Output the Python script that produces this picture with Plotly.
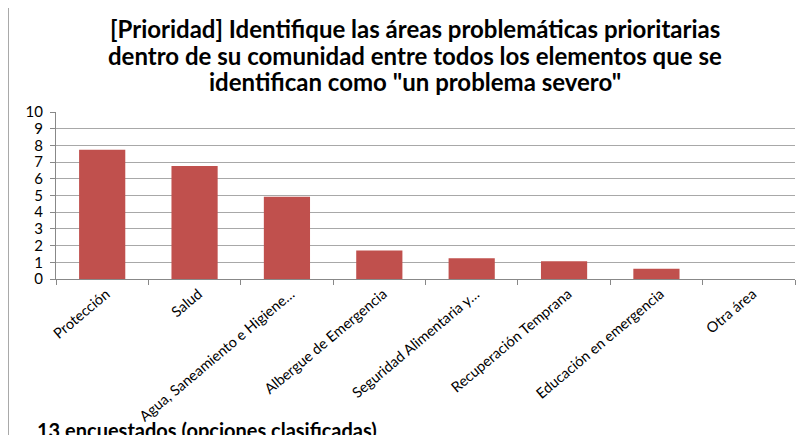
import plotly.graph_objects as go

categories = ["Protección", "Salud", "Agua, Saneamiento e Higiene…", "Albergue de Emergencia",
              "Seguridad Alimentaria y…", "Recuperación Temprana", "Educación en emergencia", "Otra área"]
values = [7.74, 6.76, 4.92, 1.70, 1.24, 1.06, 0.62, 0]
y_ticks = list(range(0, 11))

title_lines = ["[Prioridad] Identifique las áreas problemáticas prioritarias",
               "dentro de su comunidad entre todos los elementos que se",
               "identifican como \"un problema severo\""]
footer_text = "13 encuestados (opciones clasificadas)"

fig = go.Figure(go.Bar(
    x=categories, y=values,
    marker=dict(color="#C0504D", line=dict(width=0)),
))

fig.update_layout(
    width=804, height=435,
    margin=dict(l=48, r=17, t=104, b=164, autoexpand=False),
    paper_bgcolor="white", plot_bgcolor="white",
    bargap=0.5,
    showlegend=False,
    font=dict(family="Lato", color="#000000"),
)
fig.update_xaxes(
    type="category", tickangle=-40, tickson="boundaries", ticks="outside", ticklen=5,
    tickcolor="#888888", showline=True, linecolor="#888888", linewidth=1, showgrid=False,
    tickfont=dict(family="Lato", size=14.5, color="#000000"), automargin=False,
    ticklabelshift=4,
)
fig.update_yaxes(
    range=[0, 10], tickvals=y_ticks, ticks="outside", ticklen=5, tickcolor="#888888",
    showline=True, linecolor="#888888", linewidth=1, ticklabelstandoff=4,
    showgrid=True, gridcolor="#A8A8A8", gridwidth=1, zeroline=False,
    tickfont=dict(family="Lato", size=15, color="#000000"), automargin=False,
)
for i, (line, yc) in enumerate(zip(title_lines, [28, 55, 82])):
    fig.add_annotation(text="<b>" + line + "</b>", xref="paper", yref="paper",
                       x=0.486, y=(279 - yc) / 167, xanchor="center", yanchor="middle",
                       showarrow=False, font=dict(family="Lato", size=24, color="#000000"))
fig.add_annotation(text="<b>" + footer_text + "</b>", xref="paper", yref="paper",
                   x=-0.028, y=-0.82, xanchor="left", yanchor="top", showarrow=False,
                   font=dict(family="Lato", size=20, color="#000000"))
fig.add_shape(type="rect", xref="paper", yref="paper", x0=-0.065, x1=1.03, y0=-1.2, y1=1.641,
              line=dict(color="#888888", width=1.5))

fig.write_html("out.html")
